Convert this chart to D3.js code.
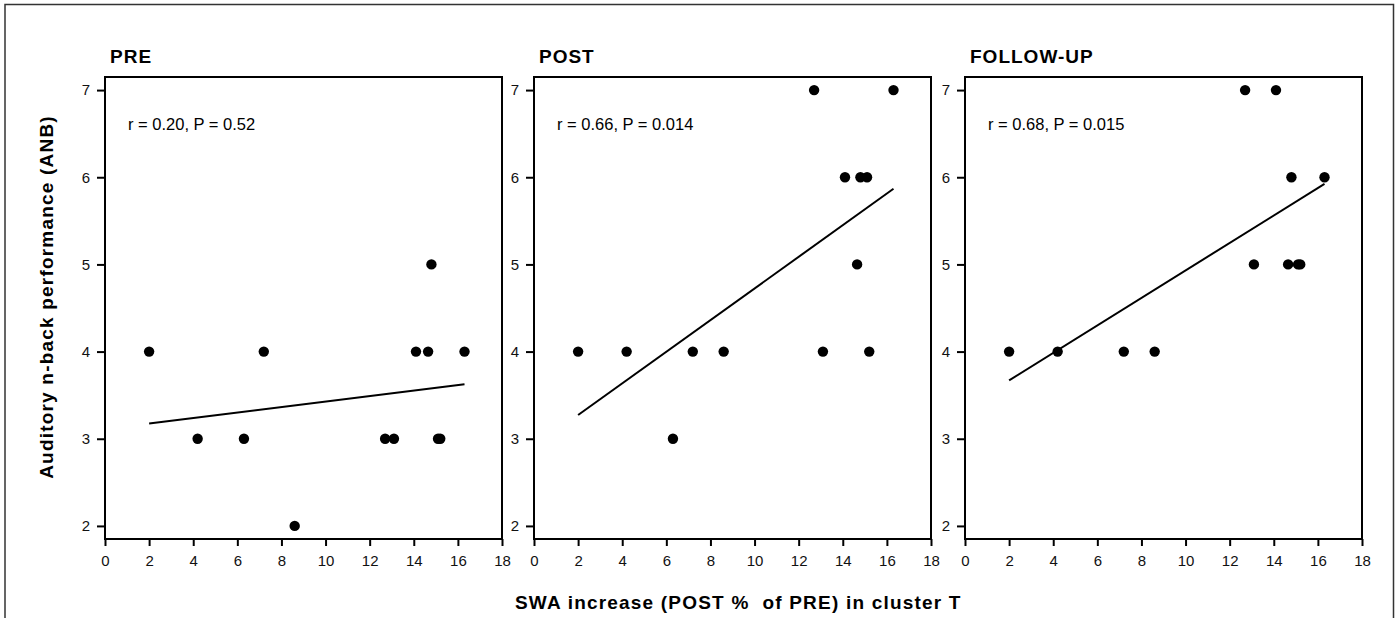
<!DOCTYPE html>
<html>
<head>
<meta charset="utf-8">
<script src="https://cdn.jsdelivr.net/npm/d3@7"></script>
<style>
  body { margin: 0; background: #fff; }
  svg { font-family: Arial, "Liberation Sans", sans-serif; }
  .axis line { stroke: #000; stroke-width: 2; }
  .axis path { display: none; }
  .label { font-weight: bold; white-space: pre; }
</style>
</head>
<body>
<div id="chart"></div>
<script>
// SWA increase per subject (same subjects in every panel)
var swa = [2.0, 4.2, 6.3, 7.2, 8.6, 12.7, 13.1, 14.1, 14.65, 14.8, 15.1, 15.2, 16.3];

// ANB score per subject, per session (null = missing)
var anbPre    = [4, 3, 3, 4, 2, 3, 3, 4, 4, 5, 3, 3, 4];
var anbPost   = [4, 4, 3, 4, 4, 7, 4, 6, 5, 6, 6, 4, 7];
var anbFollow = [4, 4, null, 4, 4, 7, 5, 7, 5, 6, 5, 5, 6];

var panelTitles = ['PRE', 'POST', 'FOLLOW-UP'];
var panelStats = ['r = 0.20, P = 0.52', 'r = 0.66, P = 0.014', 'r = 0.68, P = 0.015'];
var xTicks = [0, 2, 4, 6, 8, 10, 12, 14, 16, 18];
var yTicks = [2, 3, 4, 5, 6, 7];

var width = 1398, height = 618;
var panelLeft = [105, 534, 965],
    panelW = 397,
    plotTop = 77,
    plotBottom = 539;

var svg = d3.select('#chart')
    .append('svg')
    .attr('width', width)
    .attr('height', height);

// outer frame (open at the bottom)
svg.append('path')
    .attr('d', 'M5,' + height + 'V4.5H1393.5V' + height)
    .attr('fill', 'none')
    .attr('stroke', '#333')
    .attr('stroke-width', 1.5);

var series = [anbPre, anbPost, anbFollow];

var y = d3.scaleLinear().domain([1.85, 7.15]).range([plotBottom, plotTop]);

function styleAxis(sel) {
    sel.attr('font-family', null).attr('font-size', 15);
    sel.selectAll('text').attr('fill', '#111');
}

series.forEach(function(vals, i) {
    var x = d3.scaleLinear().domain([0, 18]).range([panelLeft[i], panelLeft[i] + panelW]);
    var pts = swa.map(function(s, j) { return { x: s, y: vals[j] }; })
        .filter(function(d) { return d.y != null; });

    var g = svg.append('g');

    g.append('g')
        .classed('axis', true)
        .attr('transform', 'translate(0,' + plotBottom + ')')
        .call(d3.axisBottom(x).tickValues(xTicks).tickFormat(d3.format('d')).tickSize(7).tickPadding(9))
        .call(styleAxis);

    g.append('g')
        .classed('axis', true)
        .attr('transform', 'translate(' + panelLeft[i] + ',0)')
        .call(d3.axisLeft(y).tickValues(yTicks).tickFormat(d3.format('d')).tickSize(8).tickPadding(7))
        .call(styleAxis);

    // panel box
    g.append('rect')
        .attr('x', panelLeft[i])
        .attr('y', plotTop)
        .attr('width', panelW)
        .attr('height', plotBottom - plotTop)
        .attr('fill', 'none')
        .attr('stroke', '#000')
        .attr('stroke-width', 2);

    // least-squares fit
    var mx = d3.mean(pts, function(d) { return d.x; }),
        my = d3.mean(pts, function(d) { return d.y; });
    var slope = d3.sum(pts, function(d) { return (d.x - mx) * (d.y - my); }) /
                d3.sum(pts, function(d) { return (d.x - mx) * (d.x - mx); });
    var ext = d3.extent(pts, function(d) { return d.x; });
    var fit = ext.map(function(v) { return { x: v, y: my + slope * (v - mx) }; });

    g.append('path')
        .datum(fit)
        .attr('d', d3.line().x(function(d) { return x(d.x); }).y(function(d) { return y(d.y); }))
        .attr('stroke', '#000')
        .attr('stroke-width', 2)
        .attr('fill', 'none');

    g.selectAll('circle')
        .data(pts)
        .enter()
        .append('circle')
        .attr('cx', function(d) { return x(d.x); })
        .attr('cy', function(d) { return y(d.y); })
        .attr('r', 5.2)
        .attr('fill', '#000');

    g.append('text')
        .classed('label', true)
        .attr('x', panelLeft[i] + 5)
        .attr('y', 63)
        .attr('font-size', 19)
        .attr('letter-spacing', 1)
        .text(panelTitles[i]);

    g.append('text')
        .attr('x', panelLeft[i] + 23)
        .attr('y', 130)
        .attr('font-size', 16.5)
        .text(panelStats[i]);
});

svg.append('text')
    .classed('label', true)
    .attr('transform', 'translate(53,297) rotate(-90)')
    .attr('text-anchor', 'middle')
    .attr('font-size', 19)
    .attr('letter-spacing', 1.2)
    .text('Auditory n-back performance (ANB)');

svg.append('text')
    .classed('label', true)
    .attr('x', 515)
    .attr('y', 609)
    .attr('font-size', 19)
    .attr('letter-spacing', 1.2)
    .text('SWA increase (POST %  of PRE) in cluster T');
</script>
</body>
</html>
